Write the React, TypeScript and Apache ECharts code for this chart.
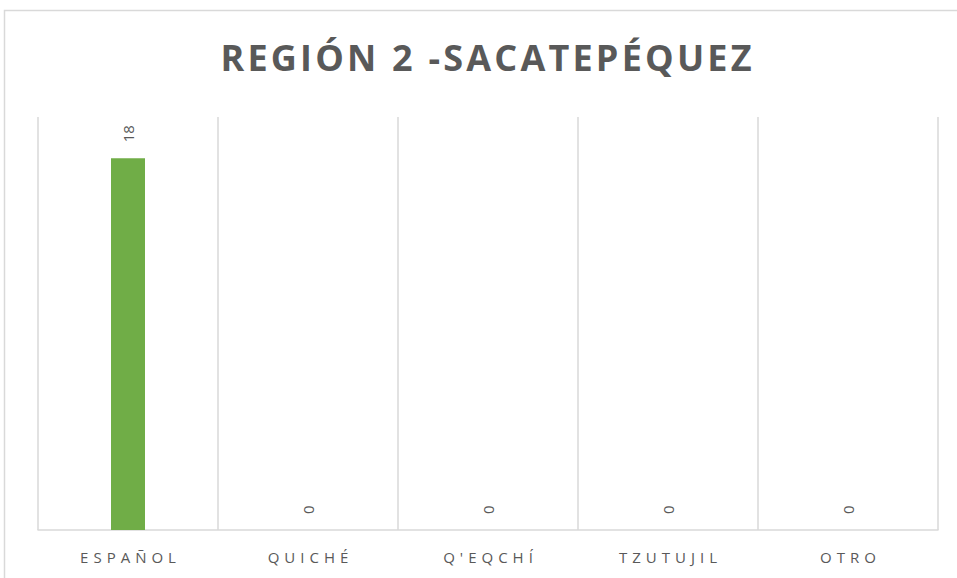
import React, { useEffect, useRef } from "react";
import * as echarts from "echarts";

const titleText = "REGIÓN 2 -SACATEPÉQUEZ";
const categories = ["ESPAÑOL", "QUICHÉ", "Q'EQCHÍ", "TZUTUJIL", "OTRO"];
const values = [18, 0, 0, 0, 0];
const axisMax = 20;

const LABEL_SPACING = 5;
const TITLE_SPACING = 3.2;

export default function App() {
  const ref = useRef<HTMLDivElement>(null);
  useEffect(() => {
    if (!ref.current) return;
    const chart = echarts.init(ref.current, null, { renderer: "svg" });
    chart.setOption({
      animation: false,
      backgroundColor: "#ffffff",
      graphic: [
        {
          type: "rect",
          shape: { x: 4.5, y: 10.5, width: 1000, height: 1000 },
          style: { fill: "none", stroke: "#d9d9d9", lineWidth: 1.5 },
          silent: true,
          z: -1,
        },
        {
          type: "text",
          x: 486,
          y: 39,
          style: {
            text: titleText,
            textAlign: "center",
            textVerticalAlign: "top",
            fontFamily: "Open Sans",
            fontWeight: "bold",
            fontSize: 36,
            fill: "#595959",
          },
          silent: true,
        },
      ],
      grid: { left: 38, right: 19, top: 117, bottom: 48 },
      xAxis: {
        type: "category",
        data: categories,
        axisLine: { show: true, lineStyle: { color: "#d9d9d9", width: 1.5 } },
        axisTick: { show: false },
        splitLine: { show: true, lineStyle: { color: "#d9d9d9", width: 1.5 } },
        axisLabel: {
          margin: 19,
          fontFamily: "Open Sans",
          fontSize: 15,
          color: "#595959",
        },
      },
      yAxis: {
        type: "value",
        min: 0,
        max: axisMax,
        show: false,
        splitLine: { show: false },
      },
      series: [
        {
          type: "bar",
          data: values,
          barWidth: 34,
          itemStyle: { color: "#70ad47" },
          label: {
            show: true,
            position: "top",
            rotate: 90,
            align: "left",
            verticalAlign: "middle",
            distance: 16,
            fontFamily: "Open Sans",
            fontSize: 15,
            color: "#595959",
          },
        },
      ],
    });
    const applySpacing = () => {
      const root = ref.current;
      if (!root) return;
      root.querySelectorAll("text").forEach((t) => {
        const s = t.textContent || "";
        if (categories.includes(s)) {
          t.setAttribute("letter-spacing", String(LABEL_SPACING));
          t.setAttribute("dx", String(LABEL_SPACING / 2));
        } else if (s === titleText) {
          t.setAttribute("letter-spacing", String(TITLE_SPACING));
          t.setAttribute("dx", String(TITLE_SPACING / 2));
        }
      });
    };
    try {
      (chart.getZr() as any).flush();
    } catch (e) {}
    applySpacing();
    chart.on("finished", applySpacing);
    return () => chart.dispose();
  }, []);
  return (
    <div
      ref={ref}
      style={{ position: "fixed", left: 0, top: 0, width: 957, height: 578 }}
    />
  );
}
